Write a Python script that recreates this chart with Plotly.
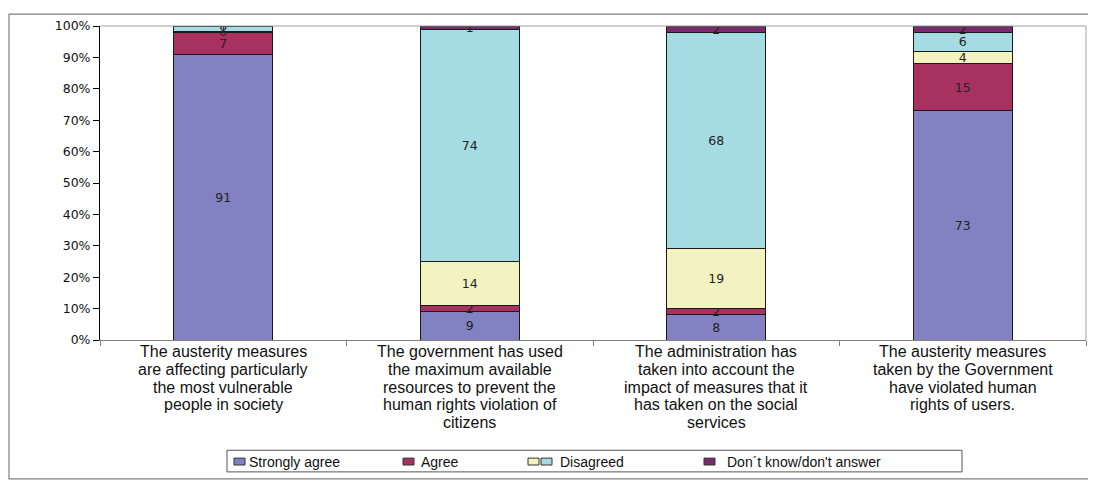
import plotly.graph_objects as go

categories = ["C1", "C2", "C3", "C4"]
category_labels = [
    ["The austerity measures", "are affecting particularly", "the most vulnerable", "people in society"],
    ["The government has used", "the maximum available", "resources to prevent the", "human rights violation of", "citizens"],
    ["The administration has", "taken into account the", "impact of measures that it", "has taken on the social", "services"],
    ["The austerity measures", "taken by the Government", "have violated human", "rights of users."],
]
strongly_agree = [91, 9, 8, 73]
agree = [7, 2, 2, 15]
disagreed_yellow = [0.4, 14, 19, 4]
disagreed_cyan = [1.3, 74, 68, 6]
dont_know = [0.3, 1, 2, 2]
y_ticks = [0, 10, 20, 30, 40, 50, 60, 70, 80, 90, 100]
y_tick_labels = ["0%", "10%", "20%", "30%", "40%", "50%", "60%", "70%", "80%", "90%", "100%"]

series = [
    ("Strongly agree", strongly_agree, "#8282C2"),
    ("Agree", agree, "#A8325F"),
    ("Disagreed (yellow)", disagreed_yellow, "#F3F3C2"),
    ("Disagreed", disagreed_cyan, "#A5DCE4"),
    ("Don´t know/don't answer", dont_know, "#7B2A6B"),
]

fig = go.Figure()
for name, vals, col in series:
    fig.add_trace(go.Bar(
        x=categories, y=vals, name=name,
        marker=dict(color=col, line=dict(color="#1a1a1a", width=1)),
        text=[f"{v:.0f}" for v in vals],
        textposition="inside", insidetextanchor="middle", textangle=0,
        textfont=dict(family="DejaVu Sans", size=12.5, color="#222222"),
        showlegend=False, width=0.4,
    ))

# page body has an 8px margin; plot area targets screen x 100..1086, y 21..340
fig.update_layout(
    barmode="stack", barnorm="percent",
    width=1088, height=475,
    margin=dict(l=92, r=10, t=13, b=143),
    plot_bgcolor="white", paper_bgcolor="white",
    uniformtext=dict(minsize=12.5, mode="show"),
    font=dict(family="Liberation Sans, Arial", color="#111111"),
)
fig.update_yaxes(
    range=[0, 100], tickvals=y_ticks, ticktext=y_tick_labels,
    showgrid=False, showline=True, linecolor="#000000", linewidth=1,
    ticks="outside", ticklen=6, tickcolor="#000000",
    tickfont=dict(family="DejaVu Sans", size=12.5, color="#111111"),
)
fig.update_xaxes(
    showgrid=False, showline=True, linecolor="#808080", linewidth=1,
    ticks="outside", ticklen=5, tickcolor="#808080", tickson="boundaries",
    showticklabels=False,
)

PW, PH = 986.0, 319.0
def px(x):
    return (x - 100) / PW
def py(y):
    return (340 - y) / PH

shapes = []
shapes.append(dict(type="line", xref="paper", yref="paper", x0=0, x1=1, y0=1, y1=1,
                   line=dict(color="#A0A0A0", width=1)))
shapes.append(dict(type="line", xref="paper", yref="paper", x0=1, x1=1, y0=0, y1=1,
                   line=dict(color="#A0A0A0", width=1)))
# outer chart frame
shapes.append(dict(type="rect", xref="paper", yref="paper",
                   x0=px(9), x1=px(1094), y0=py(481), y1=py(9),
                   line=dict(color="#808080", width=1.2), fillcolor="rgba(0,0,0,0)", layer="below"))

annotations = []
# category labels (tight line spacing like the reference)
for cat, lines in zip(categories, category_labels):
    for i, line in enumerate(lines):
        annotations.append(dict(xref="x", yref="paper", x=cat, y=py(352 + 18 * i),
                                text=line, showarrow=False, xanchor="center", yanchor="middle",
                                font=dict(size=16, color="#111111", family="Liberation Sans, Arial")))

# custom legend box
shapes.append(dict(type="rect", xref="paper", yref="paper",
                   x0=px(227), x1=px(962), y0=py(474), y1=py(452),
                   line=dict(color="#555555", width=1), fillcolor="white"))
legend_items = [
    ([(234, "#8282C2")], 247, "Strongly agree"),
    ([(403, "#A8325F")], 419, "Agree"),
    ([(528, "#F3F3C2"), (541, "#A5DCE4")], 558, "Disagreed"),
    ([(704, "#7B2A6B")], 725, "Don´t know/don't answer"),
]
for sw, tx, label in legend_items:
    for sx, col in sw:
        shapes.append(dict(type="rect", xref="paper", yref="paper",
                           x0=px(sx), x1=px(sx + 11), y0=py(467), y1=py(460),
                           line=dict(color="#333333", width=1), fillcolor=col))
    annotations.append(dict(xref="paper", yref="paper", x=px(tx), y=py(463.5),
                            text=label, showarrow=False, xanchor="left", yanchor="middle",
                            font=dict(size=14, color="#111111", family="Liberation Sans, Arial")))

fig.update_layout(shapes=shapes, annotations=annotations)
fig.write_html("out.html")
